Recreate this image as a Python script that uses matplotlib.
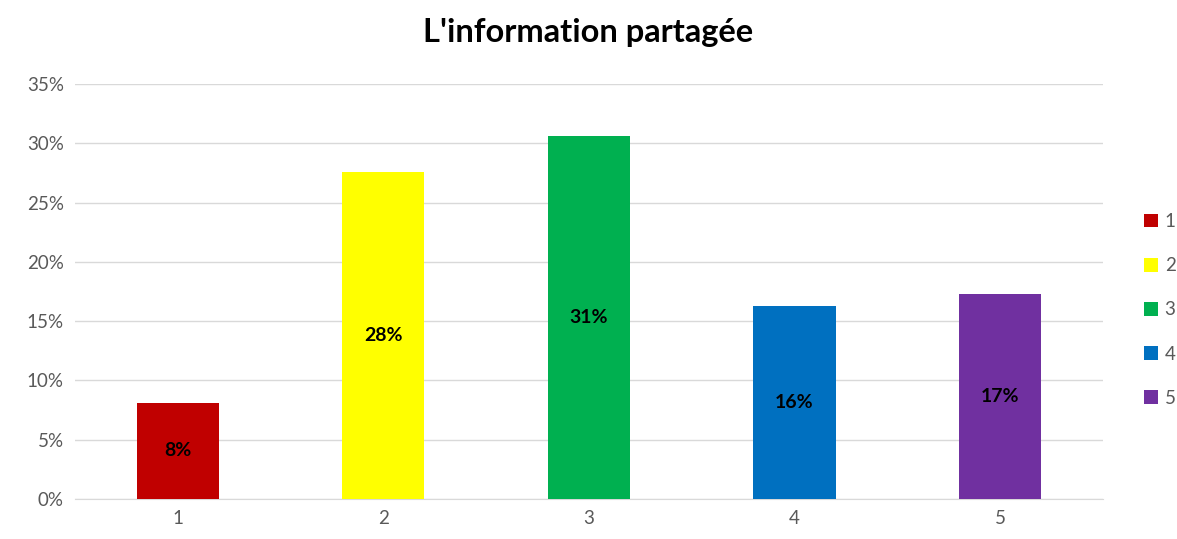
import matplotlib
matplotlib.use("Agg")
import matplotlib.pyplot as plt
from matplotlib.patches import Patch
from matplotlib.ticker import PercentFormatter

plt.rcParams.update({
    "font.family": ["Lato", "DejaVu Sans"],
})

categories = ["1", "2", "3", "4", "5"]
values = [0.081, 0.276, 0.306, 0.163, 0.173]
labels = ["8%", "28%", "31%", "16%", "17%"]
colors = ["#C00000", "#FFFF00", "#00B050", "#0070C0", "#7030A0"]
yticks = [0, 0.05, 0.10, 0.15, 0.20, 0.25, 0.30, 0.35]

fig = plt.figure(figsize=(11.77, 5.39), dpi=100)
ax = fig.add_axes([0.0637, 0.0742, 0.8733, 0.7700])

xs = range(len(categories))
bars = ax.bar(xs, values, width=0.4, color=colors, zorder=3)
for b, lab in zip(bars, labels):
    ax.text(b.get_x() + b.get_width() / 2, b.get_height() / 2, lab,
            ha="center", va="center", fontsize=14, fontweight="bold",
            color="black", zorder=4)

ax.set_xlim(-0.5, len(categories) - 0.5)
ax.set_ylim(0, 0.35)
ax.set_yticks(yticks)
ax.yaxis.set_major_formatter(PercentFormatter(1.0, decimals=0))
ax.set_xticks(list(xs))
ax.set_xticklabels(categories)
ax.tick_params(axis="both", length=0, labelsize=13.5, colors="#595959", pad=8)
ax.grid(axis="y", color="#D9D9D9", lw=1, zorder=0)
for side in ("top", "right", "left"):
    ax.spines[side].set_visible(False)
ax.spines["bottom"].set_color("#D9D9D9")

fig.text(0.5, 0.94, "L'information partagée", ha="center", va="center",
         fontsize=23.5, fontweight="bold", color="black")

handles = [Patch(facecolor=c, label=cat) for c, cat in zip(colors, categories)]
fig.legend(handles=handles, loc="center left", bbox_to_anchor=(0.972, 0.425),
           frameon=False, fontsize=13.5, handlelength=0.75, handleheight=0.75,
           labelspacing=1.45, handletextpad=0.35, labelcolor="#595959",
           borderaxespad=0, borderpad=0)

fig.savefig("out.png", dpi=100)
